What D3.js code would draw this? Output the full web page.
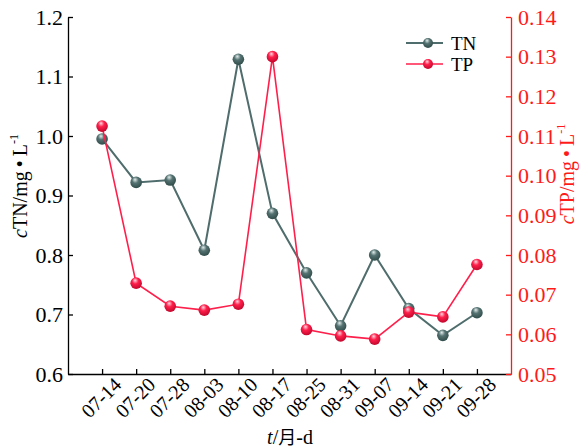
<!DOCTYPE html>
<html>
<head>
<meta charset="utf-8">
<script src="https://cdn.jsdelivr.net/npm/d3@7"></script>
<style>
    body { margin: 0; background: #fff; }
    svg { display: block; }
    svg text { font-family: "Liberation Serif", "DejaVu Serif", serif; }
    svg text .cjk { font-family: "Noto Sans CJK SC", sans-serif; }
</style>
</head>
<body>
<div id="chart"></div>
<script>

// sampling dates (month-day)
const dates = ["07-14", "07-20", "07-28", "08-03", "08-10", "08-17", "08-25", "08-31", "09-07", "09-14", "09-21", "09-28"];
// total nitrogen, mg/L
const tnValues = [0.995, 0.922, 0.926, 0.808, 1.129, 0.870, 0.770, 0.681, 0.800, 0.710, 0.665, 0.703];
// total phosphorus, mg/L
const tpValues = [0.1125, 0.0729, 0.0671, 0.0661, 0.0676, 0.1300, 0.0612, 0.0596, 0.0588, 0.0656, 0.0644, 0.0776];
const tnTicks = [0.6, 0.7, 0.8, 0.9, 1.0, 1.1, 1.2];
const tpTicks = [0.05, 0.06, 0.07, 0.08, 0.09, 0.10, 0.11, 0.12, 0.13, 0.14];

const width = 582, height = 448;
const margin = {top: 17, right: 71, bottom: 74, left: 68};
const tnColor = "#4f6d6c";
const tpColor = "#ff1f4b";
const axisRed = "#ff1a1a";

const svg = d3.select("#chart")
    .append("svg")
    .attr("width", width)
    .attr("height", height);

const x = d3.scalePoint()
    .domain(dates)
    .range([margin.left, width - margin.right])
    .padding(1);

const yTN = d3.scaleLinear()
    .domain([0.6, 1.2])
    .range([height - margin.bottom, margin.top]);

const yTP = d3.scaleLinear()
    .domain([0.05, 0.14])
    .range([height - margin.bottom, margin.top]);

// sphere-like gradients for the markers
const defs = svg.append("defs");
const makeBall = (id, light, base, dark) => {
    let g = defs.append("radialGradient")
        .attr("id", id)
        .attr("cx", "45%").attr("cy", "35%").attr("r", "60%")
        .attr("fx", "40%").attr("fy", "25%");
    g.append("stop").attr("offset", "0%").attr("stop-color", light);
    g.append("stop").attr("offset", "45%").attr("stop-color", base);
    g.append("stop").attr("offset", "100%").attr("stop-color", dark);
};
makeBall("ballTN", "#e4eeed", "#557372", "#34504f");
makeBall("ballTP", "#ffdbe2", "#ff1f4b", "#c80a30");

// axes
const bottomAxis = svg.append("g")
    .attr("transform", `translate(0,${height - margin.bottom})`)
    .call(d3.axisBottom(x).tickSize(-5).tickSizeOuter(0));

bottomAxis.selectAll("text")
    .attr("font-size", 20)
    .attr("fill", "#000")
    .attr("text-anchor", "end")
    .attr("y", 0)
    .attr("dy", 0)
    .attr("transform", "translate(20,12) rotate(-45)");

const leftAxis = svg.append("g")
    .attr("transform", `translate(${margin.left},0)`)
    .call(d3.axisLeft(yTN).tickValues(tnTicks).tickFormat(d3.format(".1f")).tickSize(-5).tickSizeOuter(0).tickPadding(5));

leftAxis.selectAll("text")
    .attr("font-size", 22)
    .attr("fill", "#000");

const rightAxis = svg.append("g")
    .attr("transform", `translate(${width - margin.right},0)`)
    .call(d3.axisRight(yTP).tickValues(tpTicks).tickFormat(d3.format(".2f")).tickSize(-5).tickSizeOuter(0).tickPadding(7));

rightAxis.selectAll("text")
    .attr("font-size", 22)
    .attr("fill", axisRed);
rightAxis.selectAll("line, path")
    .attr("stroke", axisRed);

svg.selectAll(".domain, .tick line")
    .attr("stroke-width", 1.3);

// axis titles
const leftTitle = svg.append("text")
    .attr("transform", "translate(27,186) rotate(-90)")
    .attr("text-anchor", "middle")
    .attr("font-size", 20)
    .attr("fill", "#000");
leftTitle.append("tspan").attr("font-style", "italic").text("c");
leftTitle.append("tspan").text("TN/mg\u2009•\u2009L");
leftTitle.append("tspan").attr("font-size", 12).attr("dy", -9).text("-1");

const rightTitle = svg.append("text")
    .attr("transform", "translate(574,174) rotate(-90)")
    .attr("text-anchor", "middle")
    .attr("font-size", 20)
    .attr("fill", axisRed);
rightTitle.append("tspan").attr("font-style", "italic").text("c");
rightTitle.append("tspan").text("TP/mg\u2009•\u2009L");
rightTitle.append("tspan").attr("font-size", 12).attr("dy", -9).text("-1");

const xTitle = svg.append("text")
    .attr("x", 290)
    .attr("y", 444)
    .attr("text-anchor", "middle")
    .attr("font-size", 20)
    .attr("fill", "#000");
xTitle.append("tspan").attr("font-style", "italic").text("t");
xTitle.append("tspan").text("/");
xTitle.append("tspan").attr("class", "cjk").attr("font-size", 18).text("月");
xTitle.append("tspan").text("-d");

// series
const series = [
    {name: "TN", values: tnValues, y: yTN, color: tnColor, ball: "url(#ballTN)", width: 2},
    {name: "TP", values: tpValues, y: yTP, color: tpColor, ball: "url(#ballTP)", width: 1.6}
];

series.forEach(s => {
    let line = d3.line()
        .x((d, i) => x(dates[i]))
        .y(d => s.y(d));

    svg.append("path")
        .datum(s.values)
        .attr("fill", "none")
        .attr("stroke", s.color)
        .attr("stroke-width", s.width)
        .attr("d", line);

    svg.append("g")
        .selectAll("circle")
        .data(s.values)
        .enter()
        .append("circle")
        .attr("cx", (d, i) => x(dates[i]))
        .attr("cy", d => s.y(d))
        .attr("r", 5.8)
        .attr("fill", s.ball);
});

// legend
const legend = svg.append("g")
    .selectAll("g")
    .data(series)
    .enter()
    .append("g")
    .attr("transform", (d, i) => `translate(406,${43 + i * 21})`);

legend.append("line")
    .attr("x1", 0).attr("x2", 37)
    .attr("stroke", d => d.color)
    .attr("stroke-width", d => d.width);

legend.append("circle")
    .attr("cx", 22)
    .attr("r", 5)
    .attr("fill", d => d.ball);

legend.append("text")
    .attr("x", 45)
    .attr("dy", "0.35em")
    .attr("font-size", 19)
    .attr("fill", "#000")
    .text(d => d.name);

</script>
</body>
</html>
